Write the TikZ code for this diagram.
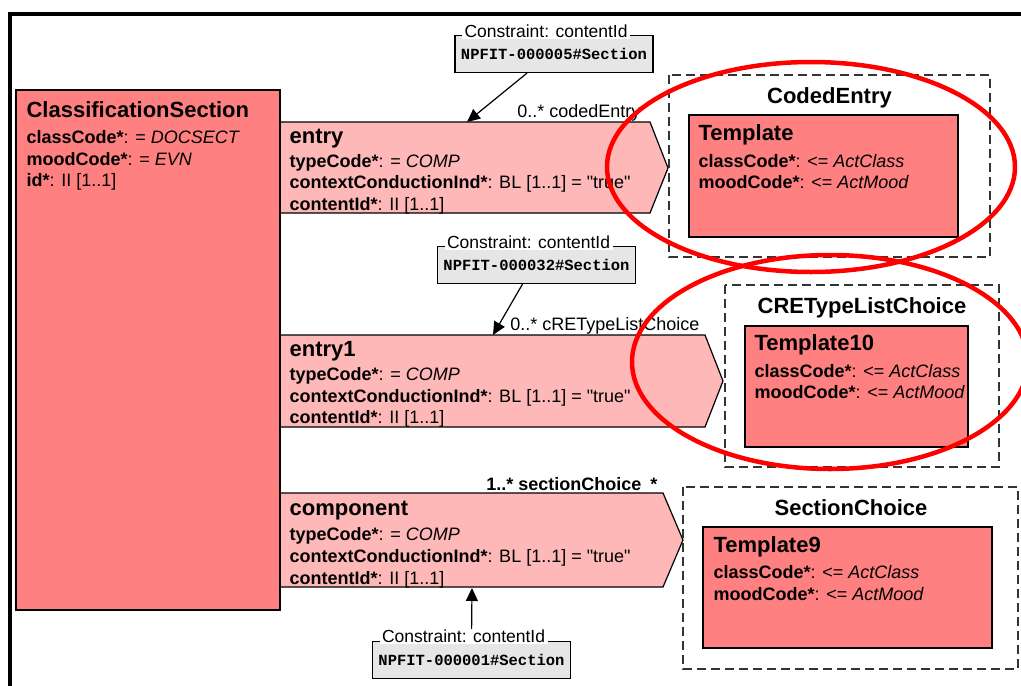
\documentclass[tikz,border=0pt]{standalone}
\usepackage{fontspec}
\setmainfont{Liberation Sans}[Ligatures=TeXOff]
\setmonofont{Liberation Mono}
\usetikzlibrary{arrows.meta}
\definecolor{clsred}{HTML}{FF8080}
\definecolor{relpink}{HTML}{FFB8B8}
\definecolor{consgrey}{HTML}{E6E6E6}
\newcommand{\attr}[2]{\textbf{#1*}: #2}
\newcommand{\npfit}[1]{\texttt{\textbf{NPFIT-#1\#Section}}}

\begin{document}
\begin{tikzpicture}[x=1pt,y=-1pt,line width=1.2pt,>={Triangle[length=13pt,width=12pt]},
  ttl/.style={anchor=base west,inner sep=0pt,font=\fontsize{22}{26}\selectfont\bfseries},
  txt/.style={anchor=base west,inner sep=0pt,font=\fontsize{18}{21}\selectfont},
  mult/.style={anchor=base east,inner sep=0pt,font=\fontsize{18}{21}\selectfont},
  consbox/.style={draw,fill=consgrey,minimum width=198pt,minimum height=37pt,inner sep=0pt,
    font=\fontsize{15.5}{18}\selectfont},
  conslbl/.style={anchor=base west,fill=white,inner xsep=2.5pt,inner ysep=1pt,
    font=\fontsize{17.5}{20}\selectfont},
  choice/.style={draw=black!80,line width=1.4pt,dash pattern=on 9pt off 5pt},
  redring/.style={draw=red,line width=4.5pt}]
  \useasboundingbox (0,0) rectangle (1021,686);
  % frame
  \draw[line width=4pt] (10,686) -- (10,13.5) -- (1021,13.5);
  % relation shapes
  \draw[fill=relpink] (280,122) -- (650,122) -- (668,168) -- (650,213) -- (280,213) -- cycle;
  \draw[fill=relpink] (280,335) -- (705,335) -- (723,381) -- (705,427) -- (280,427) -- cycle;
  \draw[fill=relpink] (280,493) -- (663,493) -- (683,540) -- (663,587) -- (280,587) -- cycle;
  \coordinate (entryIn) at (467,122);
  \coordinate (entryOneIn) at (493,335);
  \coordinate (compIn) at (472,588);
  % classification section
  \draw[fill=clsred] (16,90) rectangle (280,610);
  \node[ttl] (csTitle) at (26,117) {ClassificationSection};
  \node[txt] (csClass) at (26,143) {\attr{classCode}{= \textit{DOCSECT}}};
  \node[txt] (csMood) at (26,165) {\attr{moodCode}{= \textit{EVN}}};
  \node[txt] (csId) at (26,186) {\attr{id}{II [1..1]}};
  % entry
  \node[ttl] (entTitle) at (289,143) {entry};
  \node[txt] (entType) at (289,167) {\attr{typeCode}{= \textit{COMP}}};
  \node[txt] (entCtx) at (289,188) {\attr{contextConductionInd}{BL [1..1] = "true"}};
  \node[txt] (entCont) at (289,210) {\attr{contentId}{II [1..1]}};
  \node[mult] (entMult) at (641,117) {0..* codedEntry};
  % entry1
  \node[ttl] (entOneTitle) at (289,356) {entry1};
  \node[txt] (entOneType) at (289,380) {\attr{typeCode}{= \textit{COMP}}};
  \node[txt] (entOneCtx) at (289,402) {\attr{contextConductionInd}{BL [1..1] = "true"}};
  \node[txt] (entOneCont) at (289,423) {\attr{contentId}{II [1..1]}};
  \node[mult] (entOneMult) at (700,330) {0..* cRETypeListChoice};
  % component
  \node[ttl] (compTitle) at (289,515) {component};
  \node[txt] (compType) at (289,540) {\attr{typeCode}{= \textit{COMP}}};
  \node[txt] (compCtx) at (289,562) {\attr{contextConductionInd}{BL [1..1] = "true"}};
  \node[txt] (compCont) at (289,584) {\attr{contentId}{II [1..1]}};
  \node[mult,font=\fontsize{18}{21}\selectfont\bfseries] (compMult) at (658,490) {1..* sectionChoice\hspace{9pt}*};
  % constraints
  \node[consbox] (consA) at (554,54) {\npfit{000005}};
  \draw[->] ([xshift=-27pt]consA.south) -- (entryIn);
  \node[conslbl] (consALbl) at ([xshift=7pt,yshift=-3pt]consA.north west) {Constraint: contentId};
  \node[consbox] (consB) at (536.5,265) {\npfit{000032}};
  \draw[->] ([xshift=-14pt]consB.south) -- (entryOneIn);
  \node[conslbl] (consBLbl) at ([xshift=7pt,yshift=-3pt]consB.north west) {Constraint: contentId};
  \node[consbox] (consC) at (471.5,660) {\npfit{000001}};
  \draw[->] (consC.north) -- (compIn);
  \node[conslbl] (consCLbl) at ([xshift=7pt,yshift=-2pt]consC.north west) {Constraint: contentId};
  % choice boxes
  \draw[choice] (669,75) rectangle (990,257);
  \node[anchor=base,inner sep=0pt,font=\fontsize{22}{26}\selectfont\bfseries] (codedTitle) at (829.5,103) {CodedEntry};
  \draw[fill=clsred] (689,115) rectangle (958,237);
  \node[ttl] (tplTitle) at (698,140) {Template};
  \node[txt] (tplClass) at (698,167) {\attr{classCode}{<= \textit{ActClass}}};
  \node[txt] (tplMood) at (698,188) {\attr{moodCode}{<= \textit{ActMood}}};
  \draw[choice] (725,285) rectangle (999,467);
  \node[anchor=base,inner sep=0pt,font=\fontsize{22}{26}\selectfont\bfseries] (creTitle) at (862,313) {CRETypeListChoice};
  \draw[fill=clsred] (745,326) rectangle (968,447);
  \node[ttl] (tplTenTitle) at (754,350) {Template10};
  \node[txt] (tplTenClass) at (754,377) {\attr{classCode}{<= \textit{ActClass}}};
  \node[txt] (tplTenMood) at (754,398) {\attr{moodCode}{<= \textit{ActMood}}};
  \draw[choice] (683,487) rectangle (1018,669);
  \node[anchor=base,inner sep=0pt,font=\fontsize{22}{26}\selectfont\bfseries] (secTitle) at (851,515) {SectionChoice};
  \draw[fill=clsred] (703,527) rectangle (992,648);
  \node[ttl] (tplNineTitle) at (713,552) {Template9};
  \node[txt] (tplNineClass) at (713,578) {\attr{classCode}{<= \textit{ActClass}}};
  \node[txt] (tplNineMood) at (713,600) {\attr{moodCode}{<= \textit{ActMood}}};
  % red rings
  \draw[redring] (811,167) ellipse [x radius=204pt,y radius=105pt];
  \draw[redring] (830,362) ellipse [x radius=198pt,y radius=107pt];
\end{tikzpicture}
\end{document}
